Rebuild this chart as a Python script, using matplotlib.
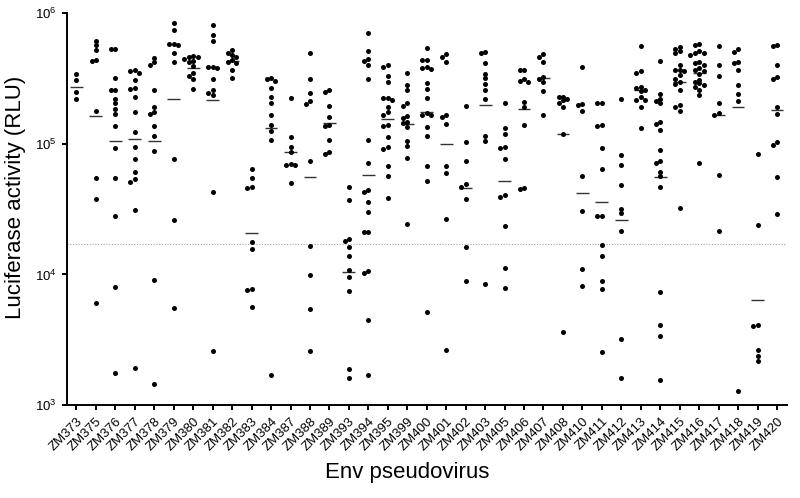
import numpy as np
import matplotlib
matplotlib.use("Agg")
import matplotlib.pyplot as plt
from matplotlib.ticker import NullLocator

plt.rcParams['font.family'] = ['Liberation Sans', 'DejaVu Sans']

# Env pseudoviruses (x categories)
viruses = ['ZM373', 'ZM375', 'ZM376', 'ZM377', 'ZM378', 'ZM379', 'ZM380', 'ZM381',
           'ZM382', 'ZM383', 'ZM384', 'ZM387', 'ZM388', 'ZM389', 'ZM393', 'ZM394',
           'ZM395', 'ZM399', 'ZM400', 'ZM401', 'ZM402', 'ZM403', 'ZM405', 'ZM406',
           'ZM407', 'ZM408', 'ZM410', 'ZM411', 'ZM412', 'ZM413', 'ZM414', 'ZM415',
           'ZM416', 'ZM417', 'ZM418', 'ZM419', 'ZM420']

# luciferase activity (RLU), one list per virus
zm373 = [3.4e5, 3.1e5, 2.5e5, 2.2e5]
zm375 = [6.1e5, 5.7e5, 5.2e5, 4.3e5, 4.4e5, 1.8e5, 5.5e4, 3.8e4, 6.0e3]
zm376 = [5.3e5, 5.3e5, 3.2e5, 2.6e5, 2.6e5, 2.2e5, 2.05e5, 1.85e5, 1.7e5, 1.37e5, 9.3e4,
         5.5e4, 2.8e4, 8.0e3, 1.75e3]
zm377 = [3.7e5, 3.6e5, 3.5e5, 3.1e5, 2.7e5, 2.65e5, 2.3e5, 1.76e5, 1.24e5, 9.5e4, 7.7e4,
         6.1e4, 5.4e4, 5.1e4, 3.1e4, 1.93e3]
zm378 = [4.55e5, 4.25e5, 4.0e5, 2.6e5, 1.9e5, 1.74e5, 1.7e5, 1.37e5, 1.14e5, 8.8e4, 9.0e3, 1.46e3]
zm379 = [8.5e5, 7.5e5, 5.8e5, 5.8e5, 5.75e5, 4.95e5, 4.25e5, 7.7e4, 2.6e4, 5.5e3]
zm380 = [4.7e5, 4.6e5, 4.6e5, 4.45e5, 4.35e5, 4.2e5, 3.95e5, 3.5e5, 3.3e5, 3.15e5, 2.65e5]
zm381 = [8.1e5, 6.8e5, 6.1e5, 3.9e5, 3.85e5, 3.8e5, 3.15e5, 2.6e5, 2.45e5, 2.35e5, 4.25e4, 2.6e3]
zm382 = [5.25e5, 4.95e5, 4.8e5, 4.65e5, 4.4e5, 4.2e5, 4.15e5, 3.65e5, 3.2e5]
zm383 = [6.4e4, 5.5e4, 4.65e4, 4.6e4, 1.78e4, 1.56e4, 7.7e3, 7.6e3, 5.6e3]
zm384 = [3.2e5, 3.15e5, 3.05e5, 2.7e5, 2.3e5, 2.05e5, 1.67e5, 1.4e5, 1.26e5, 1.07e5, 1.71e3]
zm387 = [2.25e5, 1.12e5, 9.5e4, 8.6e4, 7.0e4, 6.95e4, 6.9e4, 5.0e4]
zm388 = [5.0e5, 3.15e5, 2.45e5, 2.13e5, 2.02e5, 7.4e4, 1.65e4, 9.9e3, 5.4e3, 2.6e3]
zm389 = [2.6e5, 2.5e5, 1.95e5, 1.6e5, 1.4e5, 1.37e5, 1.07e5, 8.6e4, 8.3e4]
zm393 = [4.7e4, 3.7e4, 1.87e4, 1.79e4, 1.62e4, 1.39e4, 1.09e4, 9.5e3, 7.5e3, 1.89e3, 1.61e3]
zm394 = [7.1e5, 5.1e5, 4.5e5, 4.35e5, 4.0e5, 3.15e5, 1.07e5, 7.1e4, 4.4e4, 4.25e4, 3.6e4,
         3.0e4, 2.13e4, 2.12e4, 1.07e4, 1.02e4, 4.5e3, 1.69e3]
zm395 = [4.05e5, 3.9e5, 3.3e5, 3.0e5, 2.26e5, 2.23e5, 2.16e5, 1.93e5, 1.75e5, 1.66e5, 1.4e5,
         1.36e5, 1.13e5, 9.5e4, 9.2e4, 6.8e4, 5.7e4, 3.85e4]
zm399 = [3.5e5, 2.8e5, 2.6e5, 2.05e5, 1.95e5, 1.64e5, 1.58e5, 1.46e5, 1.45e5, 1.34e5, 1.05e5,
         9.7e4, 7.8e4, 2.45e4]
zm400 = [5.45e5, 4.4e5, 4.4e5, 3.9e5, 3.8e5, 3.75e5, 2.9e5, 2.65e5, 2.25e5, 1.72e5, 1.67e5,
         1.66e5, 1.34e5, 1.15e5, 6.8e4, 5.2e4, 5.15e3]
zm401 = [4.85e5, 4.6e5, 4.2e5, 1.66e5, 1.62e5, 1.42e5, 6.75e4, 6.0e4, 2.65e4, 2.65e3]
zm402 = [1.96e5, 1.04e5, 7.45e4, 4.95e4, 4.65e4, 3.75e4, 1.62e4, 8.9e3]
zm403 = [5.05e5, 4.95e5, 4.15e5, 3.45e5, 3.2e5, 2.85e5, 2.6e5, 2.2e5, 1.15e5, 1.05e5, 8.4e3]
zm405 = [2.05e5, 1.33e5, 1.19e5, 9.5e4, 9.3e4, 7.6e4, 4.05e4, 3.9e4, 2.35e4, 1.13e4, 7.9e3]
zm406 = [3.7e5, 3.65e5, 3.15e5, 3.05e5, 3.0e5, 2.1e5, 1.9e5, 1.4e5, 4.6e4, 4.5e4]
zm407 = [4.85e5, 4.6e5, 4.25e5, 3.25e5, 3.15e5, 3.0e5, 2.55e5, 1.66e5]
zm408 = [2.3e5, 2.28e5, 2.22e5, 2.15e5, 2.07e5, 1.9e5, 1.2e5, 3.6e3]
zm410 = [3.85e5, 2.02e5, 2.0e5, 1.77e5, 5.7e4, 3.05e4, 1.1e4, 8.2e3]
zm411 = [2.06e5, 2.04e5, 1.4e5, 1.36e5, 9.3e4, 6.4e4, 2.8e4, 2.78e4, 1.67e4, 1.39e4, 8.9e3,
         7.8e3, 2.55e3]
zm412 = [2.2e5, 8.2e4, 6.9e4, 4.8e4, 3.15e4, 2.95e4, 2.15e4, 3.2e3, 1.61e3]
zm413 = [5.6e5, 3.6e5, 3.5e5, 2.75e5, 2.67e5, 2.6e5, 2.55e5, 2.3e5, 2.18e5, 2.16e5, 1.9e5, 1.32e5]
zm414 = [4.35e5, 2.4e5, 2.2e5, 2.13e5, 2.05e5, 1.46e5, 1.42e5, 1.27e5, 8.9e4, 7.4e4, 7.1e4,
         6.1e4, 5.7e4, 4.7e4, 7.4e3, 4.1e3, 3.35e3, 1.55e3]
zm415 = [5.5e5, 5.35e5, 5.1e5, 5.0e5, 4.0e5, 3.7e5, 3.68e5, 3.62e5, 3.35e5, 3.15e5, 3.0e5,
         2.85e5, 2.6e5, 2.0e5, 1.92e5, 1.77e5, 3.25e4]
zm416 = [5.8e5, 5.75e5, 5.1e5, 5.0e5, 4.95e5, 4.8e5, 4.25e5, 4.15e5, 4.0e5, 3.8e5, 3.7e5,
         3.6e5, 3.45e5, 3.1e5, 3.0e5, 2.9e5, 2.83e5, 2.75e5, 2.6e5, 2.37e5, 7.2e4]
zm417 = [5.65e5, 4.05e5, 3.3e5, 2.07e5, 1.72e5, 1.67e5, 5.75e4, 2.15e4]
zm418 = [5.3e5, 5.05e5, 4.2e5, 4.15e5, 3.7e5, 2.8e5, 2.43e5, 2.12e5, 1.27e3]
zm419 = [8.3e4, 2.4e4, 4.1e3, 4.0e3, 2.65e3, 2.37e3, 2.17e3]
zm420 = [5.75e5, 5.65e5, 4.0e5, 3.25e5, 3.15e5, 1.9e5, 1.7e5, 1.04e5, 9.8e4, 5.6e4, 2.9e4]

# geometric mean bars as drawn on the chart
gmean = [2.75e5, 1.63e5, 1.05e5, 1.09e5, 1.05e5, 2.21e5, 3.82e5, 2.17e5, 4.31e5, 2.07e4,
         1.32e5, 8.7e4, 5.56e4, 1.45e5, 1.05e4, 5.8e4, 1.55e5, 1.43e5, 1.75e5, 1.0e5,
         4.6e4, 1.98e5, 5.2e4, 1.84e5, 3.22e5, 1.2e5, 4.2e4, 3.58e4, 2.62e4, 2.59e5,
         5.62e4, 2.96e5, 3.48e5, 1.66e5, 1.9e5, 6.4e3, 1.82e5]

# cutoff (dotted line)
cutoff = 1.7e4

rlu = [zm373, zm375, zm376, zm377, zm378, zm379, zm380, zm381, zm382, zm383, zm384,
       zm387, zm388, zm389, zm393, zm394, zm395, zm399, zm400, zm401, zm402, zm403,
       zm405, zm406, zm407, zm408, zm410, zm411, zm412, zm413, zm414, zm415, zm416,
       zm417, zm418, zm419, zm420]

fig = plt.figure(figsize=(8, 4.98), dpi=100)
ax = fig.add_axes([0.0834, 0.1867, 0.9, 0.7866])
ax.set_yscale('log')
ax.set_ylim(1e3, 1e6)
ax.set_xlim(-0.5, len(viruses) - 0.5)

# pixel scales, used to spread overlapping dots sideways
pos = ax.get_position()
w_px = pos.width * fig.get_figwidth() * fig.dpi
h_px = pos.height * fig.get_figheight() * fig.dpi
px_per_cat = w_px / len(viruses)
px_per_dec = h_px / 3.0
dot = 4.6


def swarm(vals):
    y = np.log10(vals) * px_per_dec
    xs = np.zeros(len(vals))
    placed = []
    for i in np.argsort(-y):
        for k in [0, -1, 1, -2, 2, -3, 3]:
            xo = k * dot * 0.95
            if all((xo - px) ** 2 + (y[i] - py) ** 2 >= (0.8 * dot) ** 2 for px, py in placed):
                break
        placed.append((xo, y[i]))
        xs[i] = xo / px_per_cat
    return xs


for i, vals in enumerate(rlu):
    vals = np.array(vals)
    ax.scatter(i + swarm(vals), vals, s=13, c='black', linewidths=0, zorder=3)

x = np.arange(len(viruses))
ax.hlines(gmean, x - 0.33, x + 0.33, color='#333333', lw=1, zorder=2)

ax.axhline(cutoff, color='#a0a0a0', lw=0.8, ls=(0, (1, 1.5)), zorder=1)

# axes styling
for side in ['top', 'right']:
    ax.spines[side].set_visible(False)
for side in ['left', 'bottom']:
    ax.spines[side].set_linewidth(1.4)
ax.yaxis.set_minor_locator(NullLocator())
ax.tick_params(axis='both', width=1.4, length=3.8, labelsize=9.5, direction='out')
ax.set_xticks(x)
ax.set_xticklabels(viruses, rotation=45, ha='right', va='top', rotation_mode='anchor')

ax.set_ylabel('Luciferase activity (RLU)', fontsize=16)
ax.yaxis.set_label_coords(-0.056, 0.53)
ax.set_xlabel('Env pseudovirus', fontsize=16)
ax.xaxis.set_label_coords(0.473, -0.145)

plt.savefig('out.png', dpi=100)
